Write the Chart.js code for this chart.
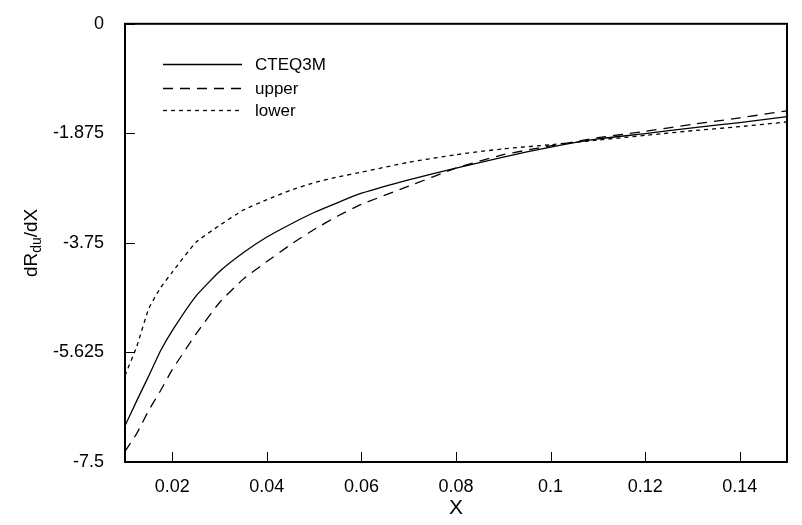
<!DOCTYPE html>
<html>
<head>
<meta charset="utf-8">
<title>dR/dX</title>
<script src="https://cdn.jsdelivr.net/npm/chart.js@4.4.1/dist/chart.umd.min.js"></script>
<style>
  html, body { margin: 0; padding: 0; background: #fff; }
  #wrap { width: 802px; height: 525px; }
</style>
</head>
<body>
<div id="wrap"><canvas id="chart" width="802" height="525"></canvas></div>
<script>
// values
const xValues = [0.01, 0.0125, 0.015, 0.0175, 0.02, 0.025, 0.03, 0.035, 0.04, 0.045, 0.05, 0.055, 0.06, 0.07, 0.08, 0.09, 0.1, 0.11, 0.12, 0.13, 0.14, 0.15];
const cteq3m = [-6.88, -6.45, -6.03, -5.60, -5.25, -4.66, -4.24, -3.92, -3.65, -3.43, -3.23, -3.06, -2.90, -2.67, -2.47, -2.28, -2.11, -1.97, -1.88, -1.78, -1.69, -1.59];
const upper = [-7.32, -7.01, -6.62, -6.28, -5.92, -5.31, -4.77, -4.37, -4.07, -3.78, -3.52, -3.29, -3.09, -2.78, -2.47, -2.24, -2.09, -1.95, -1.84, -1.72, -1.61, -1.49];
const lower = [-6.02, -5.52, -4.88, -4.52, -4.25, -3.74, -3.45, -3.19, -3.01, -2.85, -2.72, -2.62, -2.54, -2.37, -2.24, -2.14, -2.07, -1.99, -1.91, -1.83, -1.76, -1.68];

const xTicks = [0.02, 0.04, 0.06, 0.08, 0.1, 0.12, 0.14];
const xLabels = ['0.02', '0.04', '0.06', '0.08', '0.1', '0.12', '0.14'];
const yTicks = [0, -1.875, -3.75, -5.625, -7.5];
const yLabels = ['0', '-1.875', '-3.75', '-5.625', '-7.5'];
const seriesNames = ['CTEQ3M', 'upper', 'lower'];

const FONT = 'Liberation Sans, Arial, sans-serif';
const dashes = [[], [10, 7], [4, 4]];

const toPoints = (ys) => xValues.map((x, i) => ({ x, y: ys[i] }));

// frame, inward tick marks, legend and the y title with subscript
const decorations = {
  id: 'decorations',
  afterDraw(chart) {
    const { ctx, chartArea: a, scales: { x, y } } = chart;
    ctx.save();
    ctx.strokeStyle = '#000';
    ctx.lineWidth = 1;
    xTicks.forEach((v) => {
      const px = Math.round(x.getPixelForValue(v)) + 0.5;
      ctx.beginPath();
      ctx.moveTo(px, a.bottom);
      ctx.lineTo(px, a.bottom - 10);
      ctx.stroke();
    });
    yTicks.forEach((v) => {
      const py = Math.round(y.getPixelForValue(v)) + 0.5;
      ctx.beginPath();
      ctx.moveTo(a.left, py);
      ctx.lineTo(a.left + 10, py);
      ctx.stroke();
    });
    ctx.lineWidth = 2;
    ctx.strokeRect(a.left, a.top, a.right - a.left, a.bottom - a.top);

    // legend
    ctx.lineWidth = 1.3;
    ctx.font = `17px ${FONT}`;
    ctx.fillStyle = '#000';
    ctx.textBaseline = 'middle';
    ctx.textAlign = 'left';
    const rows = [64, 88, 110];
    seriesNames.forEach((name, i) => {
      ctx.setLineDash(dashes[i]);
      ctx.beginPath();
      ctx.moveTo(a.left + 38, rows[i] + 0.5);
      ctx.lineTo(a.left + 117, rows[i] + 0.5);
      ctx.stroke();
      ctx.fillText(name, a.left + 130, rows[i] + 1);
    });
    ctx.setLineDash([]);

    // y axis title: dR_du/dX
    ctx.translate(37, (a.top + a.bottom) / 2);
    ctx.rotate(-Math.PI / 2);
    ctx.textBaseline = 'alphabetic';
    const big = `19px ${FONT}`;
    const small = `14px ${FONT}`;
    ctx.font = big;
    const w1 = ctx.measureText('dR').width;
    const w3 = ctx.measureText('/dX').width;
    ctx.font = small;
    const w2 = ctx.measureText('du').width;
    let cx = -(w1 + w2 + w3) / 2;
    ctx.font = big;
    ctx.fillText('dR', cx, 0);
    cx += w1;
    ctx.font = small;
    ctx.fillText('du', cx, 4);
    cx += w2;
    ctx.font = big;
    ctx.fillText('/dX', cx, 0);
    ctx.restore();
  }
};

new Chart(document.getElementById('chart'), {
  type: 'line',
  data: {
    datasets: [cteq3m, upper, lower].map((ys, i) => ({
      label: seriesNames[i],
      data: toPoints(ys),
      borderColor: '#000',
      borderWidth: 1.3,
      borderDash: dashes[i],
      pointRadius: 0,
      tension: 0.15,
      fill: false,
    })),
  },
  options: {
    responsive: false,
    animation: false,
    devicePixelRatio: 1,
    layout: { padding: { left: 0, right: 15, top: 15, bottom: 0 } },
    plugins: {
      legend: { display: false },
      tooltip: { enabled: false },
    },
    scales: {
      x: {
        type: 'linear',
        min: 0.01,
        max: 0.15,
        afterBuildTicks: (s) => { s.ticks = xTicks.map((v) => ({ value: v })); },
        afterFit: (s) => { s.height = 63; },
        grid: { display: false },
        border: { display: false },
        ticks: {
          color: '#000',
          font: { family: FONT, size: 18 },
          padding: 6,
          maxRotation: 0,
          autoSkip: false,
          callback: (v, i) => xLabels[i],
        },
        title: {
          display: true,
          text: 'X',
          color: '#000',
          font: { family: FONT, size: 21 },
          padding: { top: 0, bottom: 4 },
        },
      },
      y: {
        min: -7.5,
        max: 0,
        afterBuildTicks: (s) => { s.ticks = yTicks.map((v) => ({ value: v })); },
        afterFit: (s) => { s.width = 125; },
        grid: { display: false },
        border: { display: false },
        ticks: {
          color: '#000',
          font: { family: FONT, size: 18 },
          padding: 13,
          autoSkip: false,
          callback: (v, i) => yLabels[i],
        },
      },
    },
  },
  plugins: [decorations],
});
</script>
</body>
</html>
